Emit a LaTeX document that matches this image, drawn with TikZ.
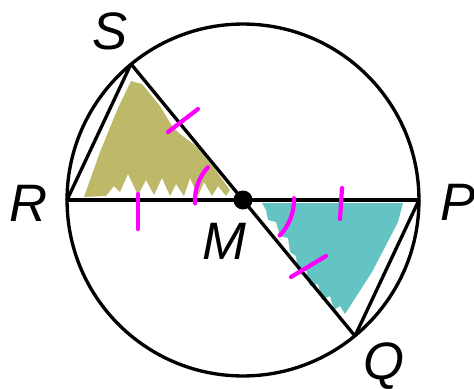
\documentclass[tikz,border=0pt]{standalone}
\usepackage{fontspec}
\setmainfont{Liberation Sans}
\usetikzlibrary{calc}
\definecolor{olivefill}{RGB}{190,185,105}
\definecolor{tealfill}{RGB}{100,195,195}
\definecolor{markpink}{RGB}{255,0,255}

\begin{document}
\begin{tikzpicture}[
  x=0.02cm, y=-0.02cm,
  every node/.style={font=\fontsize{30}{30}\selectfont\itshape},
  geom/.style={draw, line width=1.9pt},
  tickmark/.style={draw=markpink, line width=2.4pt, line cap=round},
  shade olive/.style={fill=olivefill},
  shade teal/.style={fill=tealfill}
]
\useasboundingbox (0,0) rectangle (474,389);

% ---------- Points ----------
\coordinate (M) at (243,200);
\coordinate (R) at (67,200);
\coordinate (P) at (419,200);
\coordinate (S) at (131,64);
\coordinate (Q) at (355,336);

% ---------- Shaded triangles (scribbled) ----------
\fill[shade olive] (84,197) -- (100,152) -- (118,108) -- (131,81) -- (142,84)
  -- (160,106) -- (172,126) -- (180,134) -- (196,146) -- (214,168) -- (230,190)
  -- (226,196) -- (218,186) -- (212,196) -- (204,182) -- (198,196) -- (190,178)
  -- (184,196) -- (176,184) -- (170,196) -- (162,178) -- (154,195) -- (146,180)
  -- (138,195) -- (128,174) -- (120,192) -- (114,186) -- (106,196) -- cycle;
\fill[shade teal] (262,203) -- (403,203) -- (398,222) -- (372,272) -- (345,314)
  -- (340,306) -- (334,310) -- (330,296) -- (322,300) -- (318,284) -- (310,286)
  -- (306,270) -- (298,272) -- (296,256) -- (290,252) -- (288,238) -- (280,236)
  -- (276,222) -- (268,220) -- (266,210) -- cycle;

% ---------- Circle, diameters and chords ----------
\draw[geom] (M) circle [radius=3.52cm];
\draw[geom] (R) -- (P);
\draw[geom] (S) -- (Q);
\draw[geom] (R) -- (S);
\draw[geom] (P) -- (Q);
\fill (M) circle [radius=0.19cm];

% ---------- Congruence marks ----------
\draw[tickmark] (168,132) -- (198,109);
\draw[tickmark] (138,194) -- (138,229);
\draw[tickmark] (342,188) -- (340,219);
\draw[tickmark] (291,277) -- (326,256);
\draw[tickmark] ([shift={(184:0.96cm)}]M) arc [start angle=184, end angle=137, radius=0.96cm];
\draw[tickmark] ([shift={(2:1.02cm)}]M) arc [start angle=2, end angle=-44, radius=1.02cm];

% ---------- Labels ----------
\node (lblS) at (110,31) {S};
\node (lblR) at (29,203) {R};
\node (lblM) at (224,241) {M};
\node (lblP) at (458,202) {P};
\node (lblQ) at (384,366) {Q};
\end{tikzpicture}
\end{document}
